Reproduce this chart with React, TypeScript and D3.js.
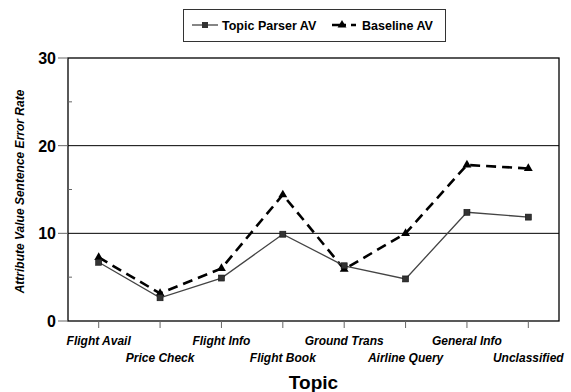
import { useEffect, useRef } from "react";
import * as d3 from "d3";

const topics = [
  "Flight Avail",
  "Price Check",
  "Flight Info",
  "Flight Book",
  "Ground Trans",
  "Airline Query",
  "General Info",
  "Unclassified",
];
const topicParser = [6.7, 2.65, 4.9, 9.9, 6.3, 4.8, 12.4, 11.85];
const baseline = [7.25, 3.15, 6.0, 14.4, 5.9, 10.0, 17.8, 17.4];
const yTicks = [0, 10, 20, 30];
const yMinorTicks = [5, 15, 25];
const gridValues = [10, 20];

const W = 571;
const H = 392;
const FONT = "'Liberation Sans', Arial, Helvetica, sans-serif";

export default function App() {
  const svgRef = useRef<SVGSVGElement | null>(null);

  useEffect(() => {
    const svg = d3.select(svgRef.current!);
    svg.selectAll("*").remove();

    const left = 68, right = 559, top = 58, bottom = 321;

    const x = d3.scalePoint<string>().domain(topics).range([left, right]).padding(0.5);
    const y = d3.scaleLinear().domain([0, 30]).range([bottom, top]);

    // gridlines
    svg.append("g")
      .selectAll("line")
      .data(gridValues)
      .join("line")
      .attr("x1", left).attr("x2", right)
      .attr("y1", (d) => y(d)).attr("y2", (d) => y(d))
      .attr("stroke", "#000").attr("stroke-width", 1);

    // frame
    svg.append("rect")
      .attr("x", left).attr("y", top)
      .attr("width", right - left).attr("height", bottom - top)
      .attr("fill", "none").attr("stroke", "#000").attr("stroke-width", 1.3);

    // y axis ticks
    svg.append("g")
      .selectAll("line")
      .data(yTicks)
      .join("line")
      .attr("x1", left - 10).attr("x2", left)
      .attr("y1", (d) => y(d)).attr("y2", (d) => y(d))
      .attr("stroke", "#666").attr("stroke-width", 1);
    svg.append("g")
      .selectAll("line")
      .data(yMinorTicks)
      .join("line")
      .attr("x1", left).attr("x2", left + 4)
      .attr("y1", (d) => y(d)).attr("y2", (d) => y(d))
      .attr("stroke", "#666").attr("stroke-width", 1);
    svg.append("g")
      .selectAll("text")
      .data(yTicks)
      .join("text")
      .attr("x", left - 12)
      .attr("y", (d) => y(d) + 6)
      .attr("text-anchor", "end")
      .attr("font-family", FONT)
      .attr("font-weight", "bold")
      .attr("font-size", 16)
      .text((d) => d);

    // x axis ticks
    svg.append("g")
      .selectAll("line")
      .data(topics)
      .join("line")
      .attr("x1", (d) => x(d)!).attr("x2", (d) => x(d)!)
      .attr("y1", bottom).attr("y2", bottom + 7)
      .attr("stroke", "#666").attr("stroke-width", 1);
    svg.append("g")
      .selectAll("text")
      .data(topics)
      .join("text")
      .attr("x", (d) => x(d)!)
      .attr("y", (_d, i) => (i % 2 === 0 ? 345 : 362))
      .attr("text-anchor", "middle")
      .attr("font-family", FONT)
      .attr("font-weight", "bold")
      .attr("font-style", "italic")
      .attr("font-size", 12)
      .text((d) => d);

    // axis titles
    svg.append("text")
      .attr("x", (left + right) / 2)
      .attr("y", 389)
      .attr("text-anchor", "middle")
      .attr("font-family", FONT)
      .attr("font-weight", "bold")
      .attr("font-size", 19)
      .text("Topic");
    svg.append("text")
      .attr("transform", `translate(24,${(top + bottom) / 2 + 2}) rotate(-90)`)
      .attr("text-anchor", "middle")
      .attr("font-family", FONT)
      .attr("font-weight", "bold")
      .attr("font-style", "italic")
      .attr("font-size", 12)
      .text("Attribute Value Sentence Error Rate");

    const line = d3.line<number>()
      .x((_d, i) => x(topics[i])!)
      .y((d) => y(d));

    // baseline (dashed, triangles)
    svg.append("path")
      .datum(baseline)
      .attr("d", line)
      .attr("fill", "none")
      .attr("stroke", "#000")
      .attr("stroke-width", 2.6)
      .attr("stroke-dasharray", "10,6");
    const tri = d3.symbol().type(d3.symbolTriangle).size(34);
    svg.append("g")
      .selectAll("path")
      .data(baseline)
      .join("path")
      .attr("d", tri)
      .attr("transform", (d, i) => `translate(${x(topics[i])},${y(d)})`)
      .attr("fill", "#000");

    // topic parser (solid, squares)
    svg.append("path")
      .datum(topicParser)
      .attr("d", line)
      .attr("fill", "none")
      .attr("stroke", "#444")
      .attr("stroke-width", 1.3);
    svg.append("g")
      .selectAll("rect")
      .data(topicParser)
      .join("rect")
      .attr("x", (_d, i) => x(topics[i])! - 3)
      .attr("y", (d) => y(d) - 3)
      .attr("width", 6).attr("height", 6)
      .attr("fill", "#333")
      .attr("stroke", "#111")
      .attr("stroke-width", 0.6);

    // legend
    const lg = svg.append("g");
    lg.append("rect")
      .attr("x", 183.5).attr("y", 9.5)
      .attr("width", 262).attr("height", 32)
      .attr("fill", "#fff").attr("stroke", "#333").attr("stroke-width", 1);
    lg.append("line")
      .attr("x1", 192).attr("x2", 218).attr("y1", 25).attr("y2", 25)
      .attr("stroke", "#444").attr("stroke-width", 1.3);
    lg.append("rect")
      .attr("x", 202).attr("y", 22).attr("width", 6).attr("height", 6)
      .attr("fill", "#333");
    lg.append("text")
      .attr("x", 222).attr("y", 29.5)
      .attr("font-family", FONT).attr("font-weight", "bold").attr("font-size", 12.5)
      .text("Topic Parser AV");
    lg.append("line")
      .attr("x1", 332).attr("x2", 356).attr("y1", 25).attr("y2", 25)
      .attr("stroke", "#000").attr("stroke-width", 2.6)
      .attr("stroke-dasharray", "14,5,4,0");
    lg.append("path")
      .attr("d", tri)
      .attr("transform", "translate(342,25)")
      .attr("fill", "#000");
    lg.append("text")
      .attr("x", 362).attr("y", 29.5)
      .attr("font-family", FONT).attr("font-weight", "bold").attr("font-size", 12.5)
      .text("Baseline AV");
  }, []);

  return (
    <div style={{ position: "absolute", left: 0, top: 0, width: W, height: H, background: "#fff" }}>
      <svg ref={svgRef} width={W} height={H} />
    </div>
  );
}
